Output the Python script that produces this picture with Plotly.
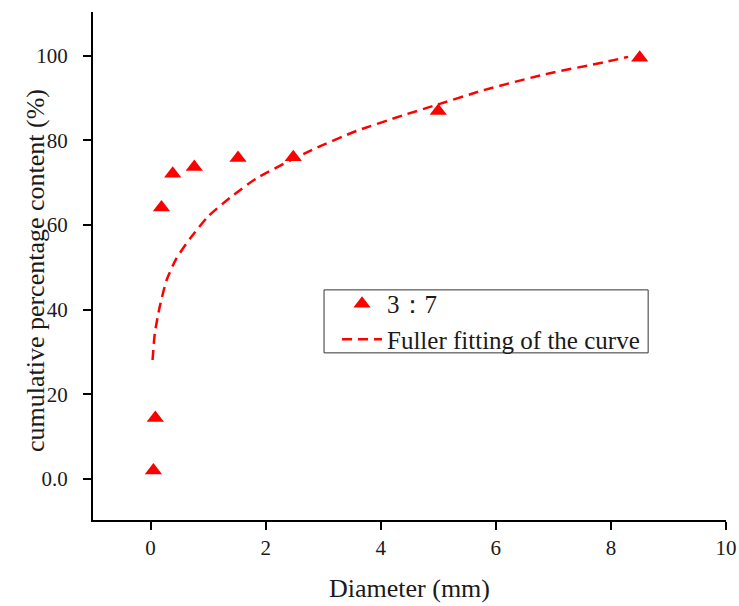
import plotly.graph_objects as go

# measured data (ratio 3:7)
diameter = [0.05, 0.083, 0.19, 0.385, 0.76, 1.52, 2.48, 5.0, 8.5]
cumulative = [2.0, 14.4, 64.1, 72.1, 73.7, 75.8, 76.0, 86.9, 99.5]

# Fuller fitted curve
fit_x = [0.035, 0.075, 0.16, 0.28, 0.45, 0.71, 1.0, 1.38, 1.84, 2.8, 3.58,
         4.39, 4.91, 5.78, 6.86, 7.87, 8.3]
fit_y = [28.1, 34.5, 40.7, 47.0, 52.1, 57.2, 62.0, 66.4, 71.0, 77.7, 82.2,
         85.9, 88.1, 91.8, 95.6, 98.4, 99.7]

x_ticks = [0, 2, 4, 6, 8, 10]
y_ticks = [0, 20, 40, 60, 80, 100]
y_ticktext = ["0.0", "20", "40", "60", "80", "100"]

series_name = "3：7"
fit_name = "Fuller fitting of the curve"
x_title = "Diameter (mm)"
y_title = "cumulative percentage content (%)"

FONT = "Liberation Serif, Times New Roman, serif"
TXT = "#1a1a1a"

fig = go.Figure()
fig.add_trace(go.Scatter(
    x=diameter, y=cumulative, mode="markers", name=series_name,
    marker=dict(symbol="triangle-up", size=15, color="#ff0000"),
))
fig.add_trace(go.Scatter(
    x=fit_x, y=fit_y, mode="lines", name=fit_name,
    line=dict(color="#ff0000", width=2.5, dash="10px,6px", shape="spline", smoothing=0.6),
))

fig.update_layout(
    width=739, height=606,
    margin=dict(l=93, r=13, t=12, b=86, autoexpand=False),
    paper_bgcolor="white", plot_bgcolor="white",
    font=dict(family=FONT, color=TXT, size=21),
    showlegend=True,
    legend=dict(
        x=0.3855, y=0.4705, xanchor="left", yanchor="top",
        borderwidth=0, bgcolor="rgba(0,0,0,0)",
        font=dict(family=FONT, size=25, color=TXT),
        tracegroupgap=0, itemwidth=40,
    ),
    shapes=[dict(
        type="rect", xref="paper", yref="paper", x0=0.365, x1=0.877, y0=0.329, y1=0.453,
        line=dict(color="#333333", width=1), fillcolor="white", layer="above",
    )],
    xaxis=dict(
        range=[-1, 10], tickmode="array", tickvals=x_ticks, ticks="outside",
        ticklen=8, tickwidth=2, tickcolor="#000000", showline=True, linecolor="black",
        linewidth=2, showgrid=False, zeroline=False, mirror=False, automargin=False,
        tickfont=dict(family=FONT, size=21, color=TXT),
        title=dict(text=x_title, font=dict(family=FONT, size=26, color=TXT), standoff=20),
    ),
    yaxis=dict(
        range=[-9.7, 110.3], tickmode="array", tickvals=y_ticks, ticktext=y_ticktext,
        ticks="outside", ticklen=8, tickwidth=2, tickcolor="#000000", showline=True,
        linecolor="black", linewidth=2, showgrid=False, zeroline=False, mirror=False,
        automargin=False, ticklabelstandoff=11,
        tickfont=dict(family=FONT, size=21, color=TXT),
    ),
    annotations=[dict(
        text=y_title, xref="paper", yref="paper", x=-0.0916, y=0.49,
        xanchor="center", yanchor="middle", textangle=-90, showarrow=False,
        font=dict(family=FONT, size=26, color=TXT),
    )],
)

fig.write_html(
    "out.html",
    config={"displayModeBar": False},
    post_script="document.body.style.margin='0';document.body.style.overflow='hidden';",
)
